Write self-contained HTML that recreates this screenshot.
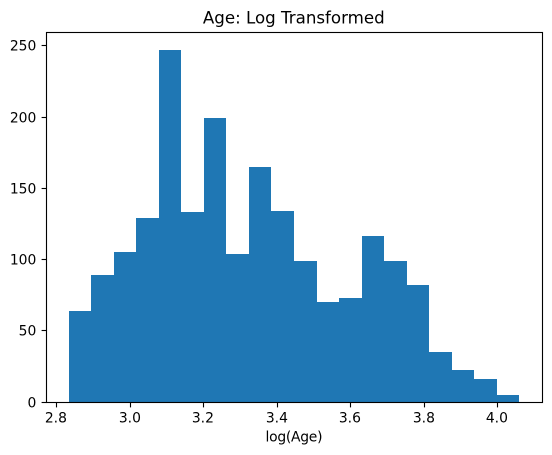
<!DOCTYPE html>
<html>
<head>
<meta charset="utf-8">
<title>Age: Log Transformed</title>
<style>
html,body{margin:0;padding:0;background:#fff;width:552px;height:455px;overflow:hidden}
svg{display:block}
text{font-family:"DejaVu Sans","Liberation Sans",sans-serif;fill:#000}
</style>
</head>
<body>
<svg id="chart" width="552" height="455" viewBox="0 0 552 455" xmlns="http://www.w3.org/2000/svg">
  <rect x="0" y="0" width="552" height="455" fill="#fff"/>
  <g id="bars"></g>
  <g id="xticks"></g>
  <g id="yticks"></g>
  <rect x="46.5" y="32.5" width="496" height="370" fill="none" stroke="#000" stroke-width="1.11"/>
  <text x="293.8" y="23.5" font-size="16.67" text-anchor="middle">Age: Log Transformed</text>
  <text x="294" y="441.5" font-size="13.89" text-anchor="middle" textLength="57" lengthAdjust="spacing">log(Age)</text>
</svg>
<script>
const binCounts = [64, 89, 105, 129, 247, 133, 199, 104, 165, 134, 99, 70, 73, 116, 99, 82, 35, 22, 16, 5];
const dataMin = 2.8332;
const dataMax = 4.0604;
const xTickValues = [2.8, 3.0, 3.2, 3.4, 3.6, 3.8, 4.0];
const xTickLabels = ["2.8", "3.0", "3.2", "3.4", "3.6", "3.8", "4.0"];
const yTickValues = [0, 50, 100, 150, 200, 250];
const yTickLabels = ["0", "50", "100", "150", "200", "250"];

const NS = "http://www.w3.org/2000/svg";
const plotLeft = 46, plotRight = 542, plotTop = 32.25, plotBottom = 401.75;

function xScale(v) {
  const span = dataMax - dataMin;
  const lo = dataMin - span * 0.05;
  const hi = dataMax + span * 0.05;
  return plotLeft + (v - lo) / (hi - lo) * (plotRight - plotLeft);
}
function yScale(v) {
  const top = Math.max.apply(null, binCounts) * 1.05;
  return plotBottom - v / top * (plotBottom - plotTop);
}

const barsGroup = document.getElementById("bars");
const binWidth = (dataMax - dataMin) / binCounts.length;
const baseRow = Math.round(yScale(0));
binCounts.forEach(function (count, i) {
  const x0 = Math.round(xScale(dataMin + i * binWidth));
  const x1 = Math.round(xScale(dataMin + (i + 1) * binWidth));
  const y0 = Math.round(yScale(count));
  const r = document.createElementNS(NS, "rect");
  
  
  r.setAttribute("x", x0);
  r.setAttribute("y", y0);
  r.setAttribute("width", x1 - x0);
  r.setAttribute("height", Math.max(0, baseRow - y0));
  r.setAttribute("fill", "#1f77b4");
  barsGroup.appendChild(r);
});

const xGroup = document.getElementById("xticks");
xTickValues.forEach(function (v, i) {
  const x = Math.round(xScale(v)) + 0.5;
  const l = document.createElementNS(NS, "line");
  
  
  l.setAttribute("x1", x);
  l.setAttribute("x2", x);
  l.setAttribute("y1", 402.5);
  l.setAttribute("y2", 407.4);
  l.setAttribute("stroke", "#000");
  l.setAttribute("stroke-width", "1.11");
  xGroup.appendChild(l);
  const t = document.createElementNS(NS, "text");
  
  
  t.setAttribute("x", x - 0.6);
  t.setAttribute("y", 422.7);
  t.setAttribute("font-size", "13.89");
  t.setAttribute("text-anchor", "middle");
  t.textContent = xTickLabels[i];
  xGroup.appendChild(t);
});

const yGroup = document.getElementById("yticks");
yTickValues.forEach(function (v, i) {
  const y = Math.round(yScale(v) - 0.1) + 0.5;
  const l = document.createElementNS(NS, "line");
  
  
  l.setAttribute("x1", 46.5);
  l.setAttribute("x2", 41.6);
  l.setAttribute("y1", y);
  l.setAttribute("y2", y);
  l.setAttribute("stroke", "#000");
  l.setAttribute("stroke-width", "1.11");
  yGroup.appendChild(l);
  const t = document.createElementNS(NS, "text");
  
  
  t.setAttribute("x", 36.3);
  t.setAttribute("y", y + 5.2);
  t.setAttribute("font-size", "13.89");
  t.setAttribute("text-anchor", "end");
  t.textContent = yTickLabels[i];
  yGroup.appendChild(t);
});
</script>
</body>
</html>
